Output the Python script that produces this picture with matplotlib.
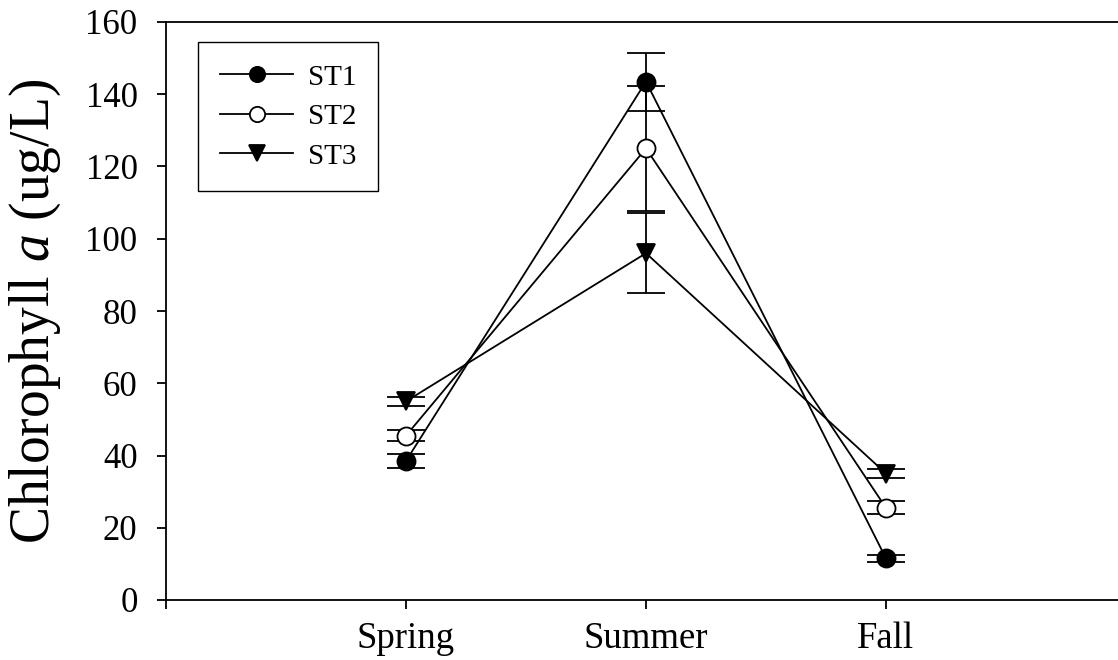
"""
Chlorophyll a por estación (ST1, ST2, ST3) a lo largo de las temporadas.
"""

import matplotlib.pyplot as plt
from matplotlib.lines import Line2D
import numpy as np

seasons = ["Spring", "Summer", "Fall"]
stations = ["ST1", "ST2", "ST3"]

st1_mean = [38.5, 143.5, 11.5]
st1_err = [2.0, 8.0, 1.0]
st2_mean = [45.5, 125.0, 25.5]
st2_err = [1.5, 17.3, 1.8]
st3_mean = [55.0, 96.0, 35.0]
st3_err = [1.3, 11.0, 1.2]

y_ticks = [0, 20, 40, 60, 80, 100, 120, 140, 160]

plt.rcParams["font.family"] = ["Liberation Serif", "DejaVu Serif"]
plt.rcParams["mathtext.fontset"] = "custom"
plt.rcParams["mathtext.it"] = "Liberation Serif:italic"
plt.rcParams["mathtext.rm"] = "Liberation Serif"

fig = plt.figure(figsize=(11.18, 6.6), dpi=100)
ax = fig.add_axes([166 / 1118, 60 / 660, 952 / 1118, 578 / 660])

x = np.arange(1, len(seasons) + 1)
styles = [
    (st1_mean, st1_err, "o", "black"),
    (st2_mean, st2_err, "o", "white"),
    (st3_mean, st3_err, "v", "black"),
]

handles = []
for (mean, err, marker, face), name in zip(styles, stations):
    ax.errorbar(x, mean, yerr=err, color="black", linewidth=1.3,
                elinewidth=1.3, capsize=14, capthick=1.3,
                marker=marker, markersize=13, markerfacecolor=face,
                markeredgecolor="black", markeredgewidth=1.3)
    # el legend sin barras de error
    handles.append(Line2D([], [], color="black", linewidth=1.3,
                          marker=marker, markersize=11,
                          markerfacecolor=face, markeredgecolor="black",
                          markeredgewidth=1.3, label=name))

ax.set_xlim(0, 952 / 240)
ax.set_ylim(0, 160)
ax.set_xticks([0] + list(x))
ax.set_xticklabels([""] + seasons)
ax.set_yticks(y_ticks)

ax.spines["right"].set_visible(False)
for side in ["left", "top", "bottom"]:
    ax.spines[side].set_linewidth(1.3)

ax.tick_params(axis="both", direction="out", length=6.5, width=1.3)
ax.tick_params(axis="y", labelsize=25, pad=14)
ax.tick_params(axis="x", labelsize=26.5, pad=9)

ax.set_ylabel(r"Chlorophyll $a$ (ug/L)", fontsize=40, labelpad=16)

leg = ax.legend(handles=handles, loc="upper left",
                bbox_to_anchor=(0.034, 0.965), borderaxespad=0,
                fontsize=21, handlelength=2.5, handletextpad=0.5,
                labelspacing=0.45, borderpad=0.75, fancybox=False,
                framealpha=1, edgecolor="black")
leg.get_frame().set_linewidth(1.0)

fig.savefig("out.png", dpi=100)
